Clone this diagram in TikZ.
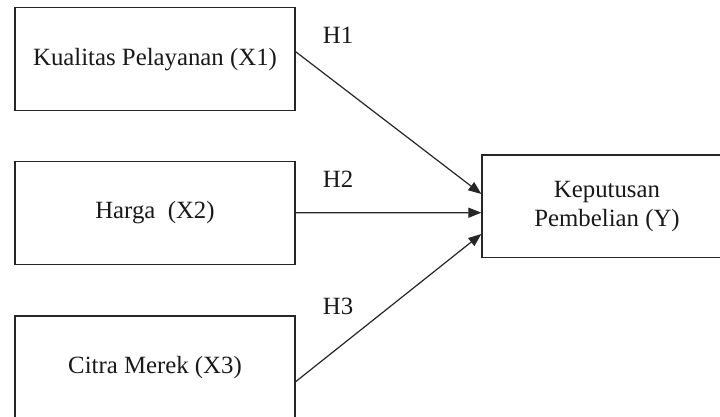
\documentclass[tikz,border=0pt]{standalone}
\usepackage{fontspec}
\setmainfont{Liberation Serif}
\usetikzlibrary{arrows.meta,calc}
\begin{document}
\begin{tikzpicture}[x=1pt,y=-1pt,
  box/.style={draw=black!85,line width=1.3pt,minimum width=280pt,minimum height=103pt,inner sep=0pt,align=center,font=\fontsize{24.8}{29}\selectfont,text=black!90},
  conn/.style={draw=black!85,line width=1.2pt,-{Triangle[length=13pt,width=10pt]}},
  hyp/.style={font=\fontsize{24.8}{29}\selectfont,text=black!90,inner sep=0pt}]
\useasboundingbox (0,0) rectangle (720,417);
\clip (0,0) rectangle (720,417);
\fill[white] (0,0) rectangle (720,417);
\node[box] (b1) at (155,59.3) {\raisebox{2pt}{Kualitas Pelayanan (X1)}};
\node[box] (b2) at (155,212.8) {Harga\ \ (X2)};
\node[box] (b3) at (155,367.5) {\raisebox{2pt}{Citra Merek (X3)}};
\node[box,minimum width=250pt,minimum height=102.7pt] (y) at (607,206.3) {Keputusan\\Pembelian (Y)};
\node[hyp] (h1) at (338,35) {H1};
\node[hyp] (h2) at (338,179) {H2};
\node[hyp] (h3) at (338,306) {H3};
\draw[conn] ($(b1.east)+(0,-7.6)$) -- ($(y.west)+(0,-12.3)$);
\draw[conn] (b2.east) -- ($(y.west)+(0,6.4)$);
\draw[conn] ($(b3.east)+(0,14.2)$) -- ($(y.west)+(0,27.7)$);
\end{tikzpicture}
\end{document}
